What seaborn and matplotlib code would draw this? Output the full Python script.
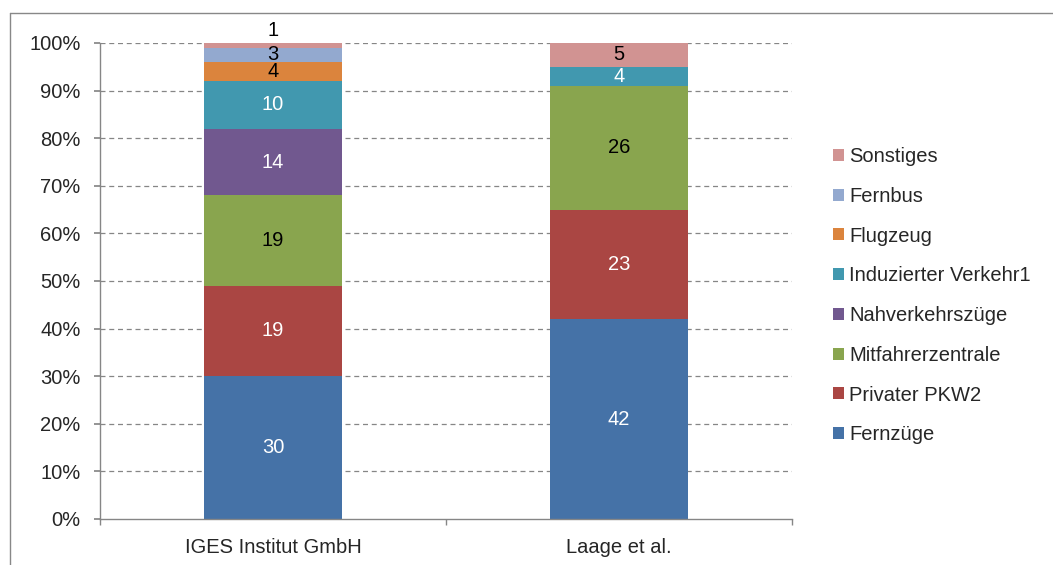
""" Stacked share chart: IGES vs. Laage """

import numpy as np
import pandas as pd
import matplotlib
matplotlib.use("Agg")
import matplotlib.pyplot as plt
from matplotlib.lines import Line2D
from matplotlib.patches import Patch
import seaborn as sns

studies = ["IGES Institut GmbH", "Laage et al."]
modes = ["Fernzüge", "Privater PKW2", "Mitfahrerzentrale", "Nahverkehrszüge",
         "Induzierter Verkehr1", "Flugzeug", "Fernbus", "Sonstiges"]
iges_values = [30, 19, 19, 14, 10, 4, 3, 1]
laage_values = [42, 23, 26, 0, 4, 0, 0, 5]
colors = ["#4572A7", "#AA4643", "#89A54E", "#71588F",
          "#4198AF", "#DB843D", "#93A9CF", "#D19392"]
text_colors = ["white", "white", "black", "white",
               "white", "black", "black", "black"]

sns.set_theme(style="white")
plt.rcParams["font.family"] = ["Liberation Sans", "DejaVu Sans"]
FS = 14.5

df = pd.DataFrame({"IGES Institut GmbH": iges_values,
                   "Laage et al.": laage_values}, index=modes)
cum = df.cumsum()

fig = plt.figure(figsize=(10.53, 5.65), dpi=100)
ax = fig.add_axes([100 / 1053, 46 / 565, 692 / 1053, 476 / 565])

# draw cumulative totals from top layer down so each one covers the next
for i in range(len(modes) - 1, -1, -1):
    m = modes[i]
    sub = pd.DataFrame({"study": studies, "top": cum.loc[m, studies].values})
    sns.barplot(data=sub, x="study", y="top", color=colors[i], width=0.4,
                saturation=1, ax=ax, linewidth=0, zorder=2)

# value labels
for j, s in enumerate(studies):
    for i, m in enumerate(modes):
        v = df.loc[m, s]
        if v == 0:
            continue
        y = cum.loc[m, s] - v / 2
        if v == 1:
            y = 102.6
        ax.text(j, y, str(v), ha="center", va="center", fontsize=FS,
                color=text_colors[i], zorder=5, clip_on=False)

ax.set_xlim(-0.5, 1.5)
ax.set_ylim(0, 100)
ax.set_yticks(np.arange(0, 101, 10))
ax.set_yticklabels([f"{t}%" for t in range(0, 101, 10)])
ax.set_xlabel("")
ax.set_ylabel("")

grid_col = "#868686"
for t in range(10, 101, 10):
    ax.axhline(t, color=grid_col, lw=0.9, ls=(0, (4, 3)), zorder=1)

for sp in ["top", "right"]:
    ax.spines[sp].set_visible(False)
for sp in ["left", "bottom"]:
    ax.spines[sp].set_color(grid_col)
    ax.spines[sp].set_linewidth(1.0)

ax.tick_params(axis="y", which="major", direction="out", length=4,
               color=grid_col, labelsize=FS, pad=10, left=True)
ax.tick_params(axis="x", which="major", length=0, labelsize=FS, pad=14)
ax.set_xticks([-0.5, 0.5, 1.5], minor=True)
ax.tick_params(axis="x", which="minor", direction="out", length=4,
               color=grid_col, bottom=True)

handles = [Patch(facecolor=colors[i], edgecolor="none", label=modes[i])
           for i in range(len(modes) - 1, -1, -1)]
fig.legend(handles=handles, loc="upper left",
           bbox_to_anchor=(825 / 1053, 1 - 139 / 565), frameon=False,
           fontsize=FS, handlelength=0.55, handleheight=0.55,
           handletextpad=0.25, labelspacing=1.03, borderaxespad=0)

# outer chart frame
frame_col = "#888888"
fig.add_artist(Line2D([10 / 1053, 10 / 1053], [0, 1 - 13 / 565],
                      transform=fig.transFigure, color=frame_col, lw=1))
fig.add_artist(Line2D([10 / 1053, 1], [1 - 13 / 565, 1 - 13 / 565],
                      transform=fig.transFigure, color=frame_col, lw=1))

fig.savefig("out.png", dpi=100)
